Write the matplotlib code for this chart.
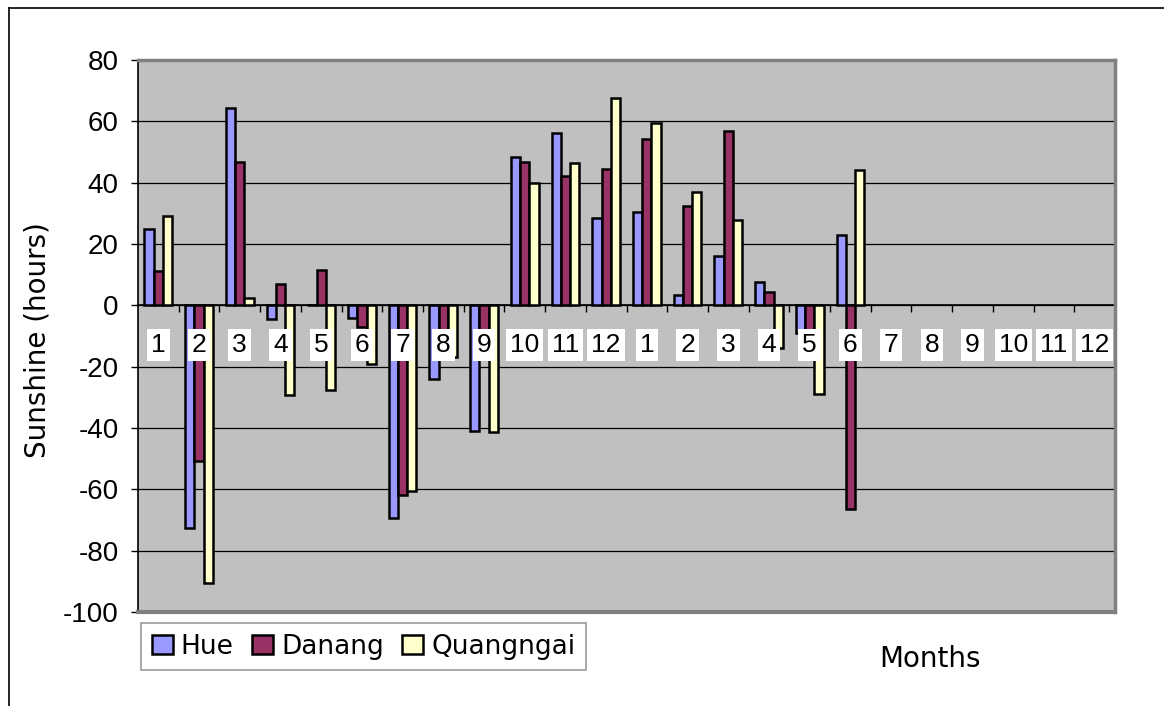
import matplotlib
matplotlib.use('Agg')
import matplotlib.pyplot as plt
import numpy as np
from matplotlib.lines import Line2D

# Monthly sunshine anomalies (hours), two years of categories, data through June of year two
months = ['1', '2', '3', '4', '5', '6', '7', '8', '9', '10', '11', '12',
          '1', '2', '3', '4', '5', '6', '7', '8', '9', '10', '11', '12']
hue = [25, -72.5, 64.3, -4.3, 0, -4, -69.4, -24.1, -41.1, 48.3, 56.1, 28.6,
       30.5, 3.5, 16, 7.6, -9, 22.9]
danang = [11.1, -50.7, 46.9, 6.8, 11.4, -7.2, -61.8, -13, -10, 46.6, 42.1, 44.6,
          54.4, 32.4, 56.9, 4.3, -9, -66.5]
quangngai = [29, -90.4, 2.5, -29.3, -27.6, -19.2, -60.4, -16.9, -41.2, 39.8, 46.4, 67.5,
             59.5, 36.8, 27.9, -13.8, -28.8, 44.1]

series = [('Hue', hue, '#9999FF'),
          ('Danang', danang, '#993366'),
          ('Quangngai', quangngai, '#FFFFCC')]

plt.rcParams['font.family'] = ['Liberation Sans', 'DejaVu Sans']
plt.rcParams['axes.unicode_minus'] = False
TXT_FONT = ['DejaVu Sans']

W, H = 1164, 706
fig = plt.figure(figsize=(W / 100, H / 100), dpi=100)
ax = fig.add_axes([138 / W, (H - 612) / H, (1115 - 138) / W, (612 - 60) / H])
ax.set_facecolor('#C0C0C0')

bar_w = 0.227
for k, (name, vals, color) in enumerate(series):
    x = np.arange(1, len(vals) + 1) + (k - 1) * bar_w
    ax.bar(x, vals, width=bar_w, color=color, edgecolor='black',
           linewidth=1.8, label=name, zorder=3)

ax.set_xlim(0.5, len(months) + 0.5)
ax.set_ylim(-100, 80)
ax.set_yticks(np.arange(-100, 81, 20))
ax.yaxis.grid(True, color='black', linewidth=0.9, zorder=1)
ax.set_axisbelow(True)

# category boundaries as small ticks hanging off the zero line
ax.spines['bottom'].set_position(('data', 0))
ax.spines['bottom'].set_linewidth(1.2)
ax.spines['bottom'].set_zorder(2)
ax.set_xticks(np.arange(1.5, len(months) + 0.6, 1))
ax.set_xticklabels([])
ax.tick_params(axis='x', direction='out', length=5, width=1, color='black')
ax.tick_params(axis='y', direction='out', length=5, width=1, color='black',
               pad=9, labelsize=20)

ax.spines['left'].set_color('black')
ax.spines['left'].set_linewidth(1.2)
for side in ('top', 'right'):
    ax.spines[side].set_color('#808080')
    ax.spines[side].set_linewidth(2.5)
ax.axhline(-100, color='#808080', linewidth=3, zorder=4, clip_on=False)

# month labels in white boxes just under the zero line
for i, m in enumerate(months):
    ax.text(i + 1, -13, m, ha='center', va='center', fontsize=19, zorder=5,
            bbox=dict(boxstyle='square,pad=0.15', facecolor='white', edgecolor='none'))

fig.text(38 / W, 1 - 340 / H, 'Sunshine (hours)', rotation=90, ha='center',
         va='center', fontsize=20, family=TXT_FONT)

leg = fig.legend(loc='upper left', bbox_to_anchor=(141 / W, 1 - 623 / H), ncol=3,
                 frameon=True, fancybox=False, edgecolor='#808080',
                 prop={'family': TXT_FONT, 'size': 19},
                 handlelength=0.8, handleheight=0.75, handletextpad=0.3,
                 columnspacing=0.7, borderpad=0.4, borderaxespad=0)
leg.get_frame().set_linewidth(1.2)

fig.text(930 / W, 1 - 659 / H, 'Months', ha='center', va='center',
         fontsize=20, family=TXT_FONT)

# chart border along top and left edges
fig.add_artist(Line2D([9 / W, 9 / W], [0, 1 - 8 / H], color='black', linewidth=1.2))
fig.add_artist(Line2D([9 / W, 1], [1 - 8 / H, 1 - 8 / H], color='black', linewidth=1.2))

fig.savefig('out.png', dpi=100)
